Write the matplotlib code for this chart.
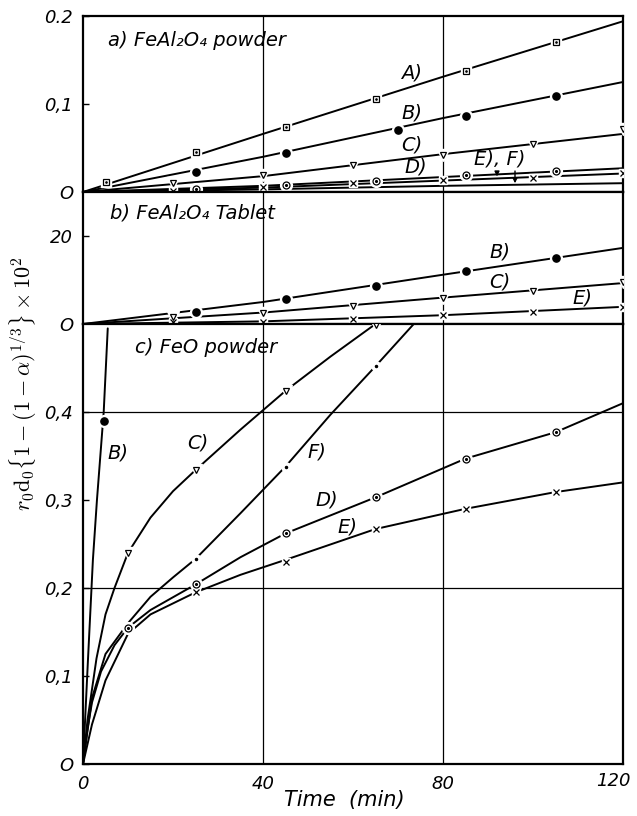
import matplotlib
matplotlib.use("Agg")
import matplotlib.pyplot as plt
from matplotlib.transforms import ScaledTranslation

# ---------------- a) FeAl2O4 powder ----------------
a_A_t = [5, 25, 45, 65, 85, 105]
a_A_v = [0.011, 0.046, 0.074, 0.106, 0.138, 0.171]
a_B_t = [25, 45, 70, 85, 105]
a_B_v = [0.023, 0.044, 0.070, 0.086, 0.109]
a_C_t = [20, 40, 60, 80, 100, 120]
a_C_v = [0.010, 0.019, 0.031, 0.042, 0.055, 0.072]
a_D_t = [25, 45, 65, 85, 105]
a_D_v = [0.003, 0.008, 0.0125, 0.019, 0.024]
a_E_t = [20, 40, 60, 80, 100, 120]
a_E_v = [0.001, 0.0055, 0.010, 0.0135, 0.016, 0.0215]

a_curve_t = [0, 40, 80, 120]
a_curve_A = [0, 0.066, 0.131, 0.194]
a_curve_B = [0, 0.040, 0.084, 0.125]
a_curve_C = [0, 0.018, 0.043, 0.066]
a_curve_D = [0, 0.007, 0.017, 0.027]
a_curve_E = [0, 0.005, 0.013, 0.021]
a_curve_F = [0, 0.003, 0.007, 0.010]

# ---------------- b) FeAl2O4 Tablet ----------------
b_B_t = [25, 45, 65, 85, 105]
b_B_v = [2.7, 5.7, 8.6, 12.0, 15.0]
b_C_t = [20, 40, 60, 80, 100, 120]
b_C_v = [1.6, 2.4, 4.1, 5.9, 7.5, 9.5]
b_E_t = [20, 40, 60, 80, 100, 120]
b_E_v = [0.5, 0.5, 1.1, 2.0, 2.7, 3.9]

b_curve_t = [0, 40, 80, 120]
b_curve_B = [0, 5.0, 11.2, 17.3]
b_curve_C = [0, 2.6, 6.0, 9.3]
b_curve_E = [0, 0.6, 2.0, 3.9]

# ---------------- c) FeO powder ----------------
c_B_t = [4.7]
c_B_v = [0.39]
c_C_t = [10, 25, 45, 65]
c_C_v = [0.24, 0.334, 0.424, 0.499]
c_D_t = [10, 25, 45, 65, 85, 105]
c_D_v = [0.155, 0.204, 0.262, 0.303, 0.347, 0.377]
c_E_t = [25, 45, 65, 85, 105]
c_E_v = [0.195, 0.230, 0.267, 0.290, 0.309]
c_F_t = [25, 45, 65]
c_F_v = [0.233, 0.338, 0.452]

c_curve_B_t = [0, 1.1, 2.2, 3.1, 4.0, 4.6, 5.5]
c_curve_B_v = [0, 0.118, 0.232, 0.30, 0.36, 0.40, 0.495]
c_curve_C_t = [0, 1, 3, 5, 7, 10, 15, 20, 25, 35, 45, 55, 65]
c_curve_C_v = [0, 0.05, 0.12, 0.17, 0.20, 0.24, 0.28, 0.31, 0.334, 0.38, 0.424, 0.463, 0.5]
c_curve_D_t = [0, 1, 2, 4, 7, 10, 15, 25, 35, 45, 65, 85, 105, 120]
c_curve_D_v = [0, 0.04, 0.07, 0.105, 0.135, 0.155, 0.175, 0.204, 0.235, 0.262, 0.303, 0.347, 0.377, 0.41]
c_curve_E_t = [0, 2, 5, 10, 15, 25, 35, 45, 65, 85, 105, 120]
c_curve_E_v = [0, 0.045, 0.095, 0.148, 0.17, 0.195, 0.215, 0.232, 0.267, 0.29, 0.309, 0.32]
c_curve_F_t = [0, 2, 5, 10, 15, 20, 25, 35, 45, 55, 65, 73.5]
c_curve_F_v = [0, 0.075, 0.125, 0.16, 0.19, 0.212, 0.233, 0.285, 0.338, 0.397, 0.452, 0.5]

x_ticks = [0, 40, 80, 120]
x_tick_labels = ["0", "40", "80", "120"]
a_ticks, a_tick_labels = [0, 0.1, 0.2], ["O", "0,1", "0.2"]
b_ticks, b_tick_labels = [0, 20], ["O", "20"]
c_ticks, c_tick_labels = [0, 0.1, 0.2, 0.3, 0.4], ["O", "0,1", "0,2", "0,3", "0,4"]

FONT = "DejaVu Sans"
LW = 1.4

fig = plt.figure(figsize=(6.37, 8.16), dpi=100)
W, H = 637.0, 816.0
left, right = 83 / W, 623 / W


def make_axes(top_px, bottom_px):
    return fig.add_axes([left, 1 - bottom_px / H, right - left, (bottom_px - top_px) / H])


ax_a = make_axes(16, 192)
ax_b = make_axes(192, 324)
ax_c = make_axes(324, 764)


def style(ax, ylim, ticks, labels, show_x=False):
    ax.set_xlim(0, 120)
    ax.set_ylim(*ylim)
    for s in ax.spines.values():
        s.set_linewidth(1.6)
    ax.set_yticks(ticks)
    ax.set_yticklabels(labels, fontsize=13, style="italic", family=FONT)
    ax.tick_params(axis="y", direction="in", length=4, width=1, pad=7)
    if show_x:
        ax.set_xticks(x_ticks)
        ax.set_xticklabels(x_tick_labels, fontsize=13, style="italic", family=FONT)
        ax.tick_params(axis="x", length=0, pad=8)
        last = ax.get_xticklabels()[-1]
        last.set_transform(last.get_transform() + ScaledTranslation(-7 / 72, 2 / 72, fig.dpi_scale_trans))
    else:
        ax.set_xticks([])
    for gx in (40, 80):
        ax.axvline(gx, color="black", lw=0.9, zorder=1)


def curve(ax, t, v):
    ax.plot(t, v, color="black", lw=LW, zorder=2, solid_capstyle="round")


def marks(ax, t, v, kind):
    if kind == "sq":
        ax.plot(t, v, ls="none", marker="s", ms=7, mfc="white", mec="white", zorder=3)
        ax.plot(t, v, ls="none", marker="s", ms=4, mfc="white", mec="black", mew=0.9, zorder=4)
        ax.plot(t, v, ls="none", marker=".", ms=1.8, color="black", zorder=5)
    elif kind == "dot":
        ax.plot(t, v, ls="none", marker="o", ms=8.5, mfc="white", mec="white", zorder=3)
        ax.plot(t, v, ls="none", marker="o", ms=5.2, color="black", zorder=4)
    elif kind == "tri":
        ax.plot(t, v, ls="none", marker="v", ms=8, mfc="white", mec="white", zorder=3)
        ax.plot(t, v, ls="none", marker="v", ms=4.5, mfc="white", mec="black", mew=0.9, zorder=4)
    elif kind == "odot":
        ax.plot(t, v, ls="none", marker="o", ms=8.5, mfc="white", mec="white", zorder=3)
        ax.plot(t, v, ls="none", marker="o", ms=5, mfc="white", mec="black", mew=0.9, zorder=4)
        ax.plot(t, v, ls="none", marker=".", ms=2.5, color="black", zorder=5)
    elif kind == "x":
        ax.plot(t, v, ls="none", marker="s", ms=6, mfc="white", mec="white", zorder=3)
        ax.plot(t, v, ls="none", marker="x", ms=3.8, color="black", mew=0.9, zorder=4)
    elif kind == "tick":
        ax.plot(t, v, ls="none", marker="o", ms=6.5, mfc="white", mec="white", zorder=3)
        ax.plot(t, v, ls="none", marker=".", ms=3, color="black", zorder=4)


def label(ax, x, y, s, size=14, ha="center"):
    ax.text(x, y, s, fontsize=size, style="italic", family=FONT, ha=ha, va="center", zorder=6)


# ---- panel a
style(ax_a, (0, 0.2), a_ticks, a_tick_labels)
for vals in (a_curve_A, a_curve_B, a_curve_C, a_curve_D, a_curve_E, a_curve_F):
    curve(ax_a, a_curve_t, vals)
marks(ax_a, a_A_t, a_A_v, "sq")
marks(ax_a, a_B_t, a_B_v, "dot")
marks(ax_a, a_C_t, a_C_v, "tri")
marks(ax_a, a_D_t, a_D_v, "odot")
marks(ax_a, a_E_t, a_E_v, "x")
label(ax_a, 5.6, 0.172, "a) FeAl₂O₄ powder", size=14, ha="left")
label(ax_a, 73, 0.135, "A)")
label(ax_a, 73, 0.090, "B)")
label(ax_a, 73, 0.053, "C)")
label(ax_a, 74, 0.028, "D)")
label(ax_a, 92.5, 0.037, "E), F)")
ax_a.annotate("", xy=(92, 0.0145), xytext=(92, 0.026),
              arrowprops=dict(arrowstyle="-|>", color="black", lw=1.0, mutation_scale=7), zorder=6)
ax_a.annotate("", xy=(96, 0.0068), xytext=(96, 0.027),
              arrowprops=dict(arrowstyle="-|>", color="black", lw=1.0, mutation_scale=7), zorder=6)

# ---- panel b
style(ax_b, (0, 30), b_ticks, b_tick_labels)
for vals in (b_curve_B, b_curve_C, b_curve_E):
    curve(ax_b, b_curve_t, vals)
marks(ax_b, b_B_t, b_B_v, "dot")
marks(ax_b, b_C_t, b_C_v, "tri")
marks(ax_b, b_E_t, b_E_v, "x")
label(ax_b, 6, 25.2, "b) FeAl₂O₄ Tablet", size=14, ha="left")
label(ax_b, 92.7, 16.4, "B)")
label(ax_b, 92.7, 9.5, "C)")
label(ax_b, 111, 5.9, "E)")

# ---- panel c
style(ax_c, (0, 0.5), c_ticks, c_tick_labels, show_x=True)
for gy in (0.2, 0.4):
    ax_c.axhline(gy, color="black", lw=0.9, zorder=1)
curve(ax_c, c_curve_B_t, c_curve_B_v)
curve(ax_c, c_curve_C_t, c_curve_C_v)
curve(ax_c, c_curve_D_t, c_curve_D_v)
curve(ax_c, c_curve_E_t, c_curve_E_v)
curve(ax_c, c_curve_F_t, c_curve_F_v)
marks(ax_c, c_B_t, c_B_v, "dot")
marks(ax_c, c_C_t, c_C_v, "tri")
marks(ax_c, c_D_t, c_D_v, "odot")
marks(ax_c, c_E_t, c_E_v, "x")
marks(ax_c, c_F_t, c_F_v, "tick")
label(ax_c, 11.6, 0.473, "c) FeO powder", size=14, ha="left")
label(ax_c, 7.8, 0.353, "B)")
label(ax_c, 25.6, 0.365, "C)")
label(ax_c, 52, 0.355, "F)")
label(ax_c, 54.2, 0.300, "D)")
label(ax_c, 58.7, 0.269, "E)")

fig.text(23 / W, 1 - 384 / H, r"$r_0\mathrm{d}_0\{1-(1-\alpha)^{1/3}\}\times10^2$",
         rotation=90, ha="center", va="center", fontsize=16, math_fontfamily="cm")
fig.text(344 / W, 1 - 800 / H, "Time  (min)", ha="center", va="center",
         fontsize=15, style="italic", family=FONT)

fig.savefig("out.png", dpi=100)
